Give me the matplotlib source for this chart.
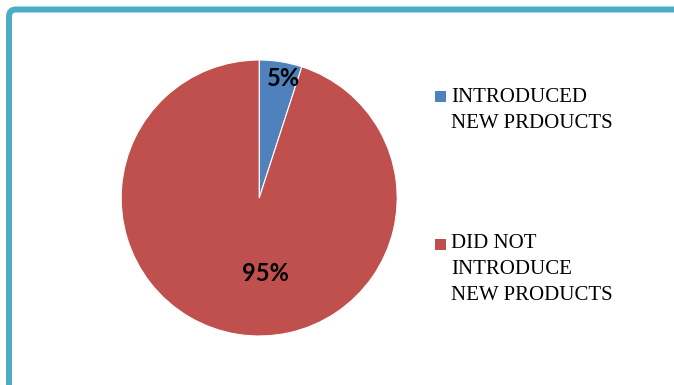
import numpy as np
import matplotlib
matplotlib.use("Agg")
import matplotlib.pyplot as plt
from matplotlib.patches import FancyBboxPatch, Rectangle

# ---- data ----
categories = ["INTRODUCED\nNEW PRDOUCTS", "DID NOT\nINTRODUCE\nNEW PRODUCTS"]
values = [5, 95]
pct_labels = ["5%", "95%"]
colors = ["#4F81BD", "#C0504D"]

# ---- layout (pixels) ----
W, H = 674, 385
fig = plt.figure(figsize=(W / 100, H / 100), dpi=100)
fig.patch.set_facecolor("white")

# frame border (teal, rounded, running off right/bottom edges)
border = FancyBboxPatch((9, -60), W + 60, H - 9.5 + 60,
                        boxstyle="round,pad=0,rounding_size=7",
                        transform=None, facecolor="none",
                        edgecolor="#4BACC6", linewidth=4.3)
fig.patches.append(border)

ax = fig.add_axes([0, 0, 1, 1])
cx, cy, r = 259.2, H - 198.0, 138.0
wedges, _ = ax.pie(values, colors=colors, startangle=90, counterclock=False,
                   center=(cx, cy), radius=r, frame=True,
                   wedgeprops=dict(edgecolor="white", linewidth=0.8))
ax.set_xlim(0, W)
ax.set_ylim(0, H)
ax.set_aspect("equal")
ax.axis("off")

# percentage labels: (distance fraction, angle nudge deg)
label_place = [(0.885, -2.5), (0.55, 14.0)]
for w, lab, (dist, nudge) in zip(wedges, pct_labels, label_place):
    ang = np.deg2rad((w.theta1 + w.theta2) / 2 + nudge)
    ax.text(cx + dist * r * np.cos(ang), cy + dist * r * np.sin(ang), lab,
            ha="center", va="center", fontsize=17, fontweight="bold",
            family="Lato", color="black")

# legend (manual, right side)
line_step = 24.3
first_baselines = [104.0, 251.7]
for cat, col, yb in zip(categories, colors, first_baselines):
    nlines = cat.count("\n") + 1
    ax.add_patch(Rectangle((435, H - (yb - 2)), 11, 11, facecolor=col,
                           edgecolor="none"))
    ax.text(451, H - (yb + (nlines - 1) * line_step), cat, ha="left",
            va="baseline", fontsize=15, family="Liberation Serif",
            color="black", linespacing=1.5)

fig.savefig("out.png", dpi=100, facecolor="white")
